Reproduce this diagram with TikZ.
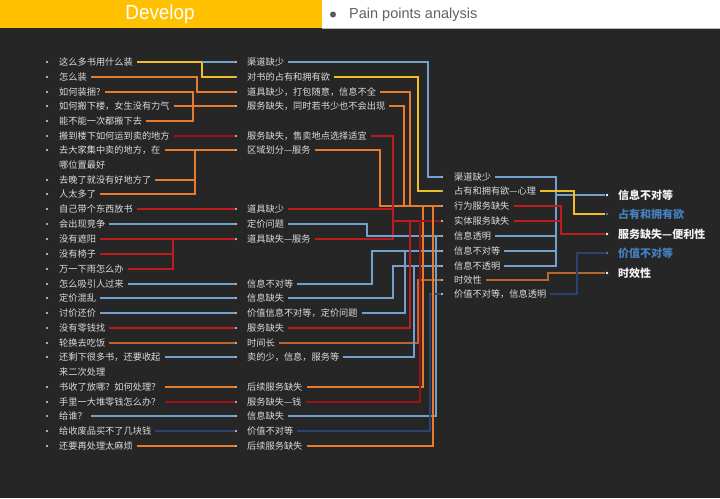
\documentclass[tikz,border=0pt]{standalone}
\usepackage{fontspec}
\setmainfont{Liberation Sans}
\newfontfamily\cjk{Noto Sans CJK SC}
\newfontfamily\narrowfont[FakeStretch=0.92]{Liberation Sans}
\definecolor{bgd}{HTML}{262626}
\definecolor{hdy}{HTML}{FFC000}
\definecolor{txtc}{HTML}{DCDCDC}
\definecolor{cyel}{HTML}{EDBE28}
\definecolor{corg}{HTML}{E67C2C}
\definecolor{cred}{HTML}{BC1C1E}
\definecolor{cdred}{HTML}{9A1216}
\definecolor{cblu}{HTML}{74A0CE}
\definecolor{cnav}{HTML}{2A4470}
\definecolor{cbrn}{HTML}{B8682F}
\definecolor{tblu}{HTML}{4580C0}
\begin{document}
\begin{tikzpicture}[x=1pt,y=-1pt,
  t/.style={anchor=west,inner xsep=4pt,inner ysep=1pt,font=\cjk\fontsize{9.2}{11}\selectfont,text=txtc},
  tb/.style={anchor=west,inner xsep=3pt,inner ysep=1pt,font=\cjk\bfseries\fontsize{11}{13}\selectfont,text=white!95!black},
  bul/.style={circle,fill=txtc,inner sep=0pt,minimum size=2.4pt},
  cn/.style={line width=1.5pt},
  cy/.style={cn,draw=cyel}, co/.style={cn,draw=corg}, cr/.style={cn,draw=cred}, cd/.style={cn,draw=cdred},
  cb/.style={cn,draw=cblu}, cv/.style={cn,draw=cnav}, cw/.style={cn,draw=cbrn}]
\useasboundingbox (0,0) rectangle (720,498);
\fill[bgd] (0,0) rectangle (720,498);
\fill[hdy] (0,0) rectangle (322,28);
\fill[white] (322,0) rectangle (720,28);
\draw[gray!55,line width=0.8pt] (322,28.4) -- (720,28.4);
\node[font=\narrowfont\fontsize{20.5}{22}\selectfont,text=white] (title) at (160,14) {Develop};
\node[circle,fill=black!65,inner sep=0pt,minimum size=6pt] (hb) at (333,14.5) {};
\node[anchor=west,inner sep=0pt,font=\fontsize{14.5}{16}\selectfont,text=black!62] (sub) at (349,15) {Pain points analysis};

% column 1
\foreach \n/\y in {1/62,2/77,3/92,4/106,5/121,6/136,7/150,8/180,9/194,10/209,11/224,12/239,13/254,14/269,15/284,16/298,17/313,18/328,19/343,20/357,21/387,22/402,23/416,24/431,25/446}
  \node[bul] (d1_\n) at (47,\y) {};
\node[t] (c1_1) at (55,62) {这么多书用什么装};
\node[t] (c1_2) at (55,77) {怎么装};
\node[t] (c1_3) at (55,92) {如何装捆?};
\node[t] (c1_4) at (55,106) {如何搬下楼，女生没有力气};
\node[t] (c1_5) at (55,121) {能不能一次都搬下去};
\node[t] (c1_6) at (55,136) {搬到楼下如何运到卖的地方};
\node[t] (c1_7) at (55,150) {去大家集中卖的地方，在};
\node[t] (c1_7b) at (55,165) {哪位置最好};
\node[t] (c1_8) at (55,180) {去晚了就没有好地方了};
\node[t] (c1_9) at (55,194) {人太多了};
\node[t] (c1_10) at (55,209) {自己带个东西放书};
\node[t] (c1_11) at (55,224) {会出现竞争};
\node[t] (c1_12) at (55,239) {没有遮阳};
\node[t] (c1_13) at (55,254) {没有椅子};
\node[t] (c1_14) at (55,269) {万一下雨怎么办};
\node[t] (c1_15) at (55,284) {怎么吸引人过来};
\node[t] (c1_16) at (55,298) {定价混乱};
\node[t] (c1_17) at (55,313) {讨价还价};
\node[t] (c1_18) at (55,328) {没有零钱找};
\node[t] (c1_19) at (55,343) {轮换去吃饭};
\node[t] (c1_20) at (55,357) {还剩下很多书，还要收起};
\node[t] (c1_20b) at (55,372) {来二次处理};
\node[t] (c1_21) at (55,387) {书收了放哪？如何处理？};
\node[t] (c1_22) at (55,402) {手里一大堆零钱怎么办？};
\node[t] (c1_23) at (55,416) {给谁？};
\node[t] (c1_24) at (55,431) {给收废品买不了几块钱};
\node[t] (c1_25) at (55,446) {还要再处理太麻烦};

% column 2
\foreach \n/\y in {a/62,b/77,c/92,d/106,e/136,f/150,g/209,h/224,i/239,j/284,k/298,l/313,m/328,n/343,o/357,p/387,q/402,r/416,s/431,t/446}
  \node[bul] (b2_\n) at (236,\y) {};
\node[t] (t2_a) at (243,62) {渠道缺少};
\node[t] (t2_b) at (243,77) {对书的占有和拥有欲};
\node[t] (t2_c) at (243,92) {道具缺少，打包随意，信息不全};
\node[t] (t2_d) at (243,106) {服务缺失，同时若书少也不会出现};
\node[t] (t2_e) at (243,136) {服务缺失，售卖地点选择适宜};
\node[t] (t2_f) at (243,150) {区域划分—服务};
\node[t] (t2_g) at (243,209) {道具缺少};
\node[t] (t2_h) at (243,224) {定价问题};
\node[t] (t2_i) at (243,239) {道具缺失—服务};
\node[t] (t2_j) at (243,284) {信息不对等};
\node[t] (t2_k) at (243,298) {信息缺失};
\node[t] (t2_l) at (243,313) {价值信息不对等，定价问题};
\node[t] (t2_m) at (243,328) {服务缺失};
\node[t] (t2_n) at (243,343) {时间长};
\node[t] (t2_o) at (243,357) {卖的少，信息，服务等};
\node[t] (t2_p) at (243,387) {后续服务缺失};
\node[t] (t2_q) at (243,402) {服务缺失—钱};
\node[t] (t2_r) at (243,416) {信息缺失};
\node[t] (t2_s) at (243,431) {价值不对等};
\node[t] (t2_t) at (243,446) {后续服务缺失};

% column 3
\foreach \n/\y in {A/177,B/191,C/206,D/221,E/236,F/251,G/266,H/280,I/294}
  \node[bul] (b3_\n) at (442,\y) {};
\node[t] (t3_A) at (450,177) {渠道缺少};
\node[t] (t3_B) at (450,191) {占有和拥有欲—心理};
\node[t] (t3_C) at (450,206) {行为服务缺失};
\node[t] (t3_D) at (450,221) {实体服务缺失};
\node[t] (t3_E) at (450,236) {信息透明};
\node[t] (t3_F) at (450,251) {信息不对等};
\node[t] (t3_G) at (450,266) {信息不透明};
\node[t] (t3_H) at (450,280) {时效性};
\node[t] (t3_I) at (450,294) {价值不对等，信息透明};

% column 4
\node[bul,fill=white,minimum size=2.8pt] (b4_1) at (607,195) {};
\node[bul,fill=tblu,minimum size=2.8pt] (b4_2) at (607,214) {};
\node[bul,fill=white,minimum size=2.8pt] (b4_3) at (607,234) {};
\node[bul,fill=tblu,minimum size=2.8pt] (b4_4) at (607,253) {};
\node[bul,fill=white,minimum size=2.8pt] (b4_5) at (607,273) {};
\node[tb] (t4_1) at (615,195) {信息不对等};
\node[tb,text=tblu] (t4_2) at (615,214) {占有和拥有欲};
\node[tb] (t4_3) at (615,234) {服务缺失—便利性};
\node[tb,text=tblu] (t4_4) at (615,253) {价值不对等};
\node[tb] (t4_5) at (615,273) {时效性};

% connectors column 1 -> column 2
\draw[cy] (c1_1.east) -- (c1_1.east -| 202,0) |- (b2_b.west);
\draw[cb] (c1_1.east -| 202,0) -- (b2_a.west);
\draw[co] (c1_2.east) -- (c1_2.east -| 197,0) |- (b2_c.west);
\draw[co] (c1_3.east) -- (c1_3.east -| 193,0) -- (c1_5.east -| 193,0) -- (c1_5.east);
\draw[co] (c1_4.east) -- (b2_d.west);
\draw[cd] (c1_6.east) -- (b2_e.west);
\draw[co] (c1_7.east) -- (b2_f.west);
\draw[co] (c1_7.east -| 195,0) -- (c1_9.east -| 195,0) -- (c1_9.east);
\draw[co] (c1_8.east) -- (c1_8.east -| 195,0);
\draw[cr] (c1_10.east) -- (b2_g.west);
\draw[cb] (c1_11.east) -- (b2_h.west);
\draw[cr] (c1_12.east) -- (b2_i.west);
\draw[cr] (c1_12.east -| 173,0) -- (c1_14.east -| 173,0) -- (c1_14.east);
\draw[cr] (c1_13.east) -- (c1_13.east -| 173,0);
\draw[cb] (c1_15.east) -- (b2_j.west);
\draw[cb] (c1_16.east) -- (b2_k.west);
\draw[cb] (c1_17.east) -- (b2_l.west);
\draw[cr] (c1_18.east) -- (b2_m.west);
\draw[cw] (c1_19.east) -- (b2_n.west);
\draw[cb] (c1_20.east) -- (b2_o.west);
\draw[co] (c1_21.east) -- (b2_p.west);
\draw[cd] (c1_22.east) -- (b2_q.west);
\draw[cb] (c1_23.east) -- (b2_r.west);
\draw[cv] (c1_24.east) -- (b2_s.west);
\draw[co] (c1_25.east) -- (b2_t.west);

% connectors column 2 -> column 3
\draw[cb] (t2_a.east) -- (t2_a.east -| 428,0) |- (b3_A.west);
\draw[cy] (t2_b.east) -- (t2_b.east -| 418,0) |- (b3_B.west);
\draw[co] (t2_c.east) -- (t2_c.east -| 410,0) |- (b3_C.west);
\draw[co] (t2_d.east) -- (t2_d.east -| 404,0) |- (b3_C.west);
\draw[co] (t2_f.east) -- (t2_f.east -| 380,0) |- (b3_C.west);
\draw[cr] (t2_e.east) -- (t2_e.east -| 393,0) -- (t2_i.east -| 393,0) -- (t2_i.east);
\draw[cr] (t2_g.east) -- (t2_g.east -| 393,0);
\draw[cr] (b3_D.west -| 393,0) -- (b3_D.west);
\draw[cb] (t2_h.east) -- (t2_h.east -| 367,0) |- (b3_E.west);
\draw[cb] (t2_j.east) -- (t2_j.east -| 372,0) |- (b3_F.west);
\draw[cb] (t2_k.east) -- (t2_k.east -| 393,0) |- (b3_G.west);
\draw[cb] (t2_l.east) -- (t2_l.east -| 405,0) |- (b3_F.west);
\draw[cr] (t2_m.east) -- (t2_m.east -| 410,0) |- (b3_D.west);
\draw[cw] (t2_n.east) -- (t2_n.east -| 418,0) |- (b3_H.west);
\draw[cb] (t2_o.east) -- (t2_o.east -| 414,0) |- (b3_G.west);
\draw[co] (t2_p.east) -- (t2_p.east -| 423,0) |- (b3_C.west);
\draw[cd] (t2_q.east) -- (t2_q.east -| 420,0) |- (b3_D.west);
\draw[cb] (t2_r.east) -- (t2_r.east -| 436,0) |- (b3_E.west);
\draw[cv] (t2_s.east) -- (t2_s.east -| 430,0) |- (b3_I.west);
\draw[co] (t2_t.east) -- (t2_t.east -| 433,0) |- (b3_C.west);

% connectors column 3 -> column 4
\draw[cb] (t3_A.east) -- (t3_A.east -| 556,0) -- (t3_G.east -| 556,0) -- (t3_G.east);
\draw[cb] (t3_E.east) -- (t3_E.east -| 556,0);
\draw[cb] (t3_F.east) -- (t3_F.east -| 556,0);
\draw[cb] (b4_1.west -| 556,0) -- (b4_1.west);
\draw[cy] (t3_B.east) -- (t3_B.east -| 574,0) |- (b4_2.west);
\draw[cr] (t3_C.east) -- (t3_C.east -| 561,0) |- (b4_3.west);
\draw[cr] (t3_D.east) -- (t3_D.east -| 561,0);
\draw[cw] (t3_H.east) -- (t3_H.east -| 548,0) |- (b4_5.west);
\draw[cv] (t3_I.east) -- (t3_I.east -| 577,0) |- (b4_4.west);
\end{tikzpicture}
\end{document}
